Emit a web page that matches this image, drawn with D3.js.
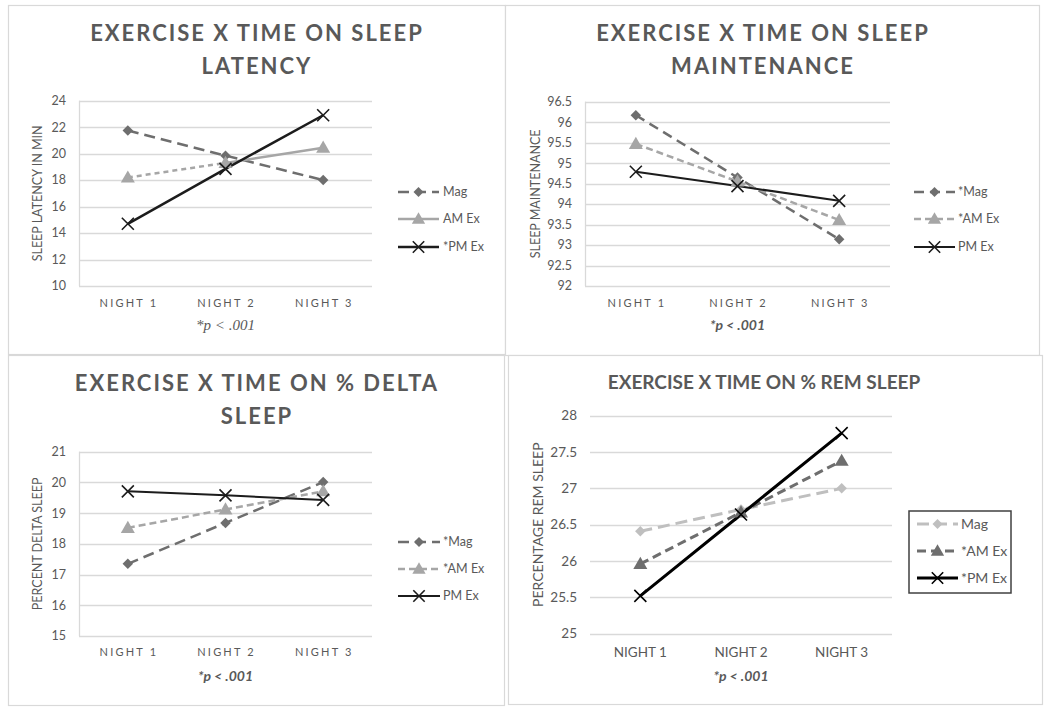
<!DOCTYPE html>
<html><head><meta charset="utf-8">
<script src="https://cdn.jsdelivr.net/npm/d3@7"></script>
<style>
body{margin:0;background:#fff;}
svg{display:block;}
text{font-family:Lato, "Open Sans", sans-serif;fill:#595959;}
</style></head>
<body>
<svg id="c" width="1050" height="712"></svg>
<script>
// ---------- DATA ----------
const nights = ["NIGHT 1", "NIGHT 2", "NIGHT 3"];
const seriesNames1 = ["Mag", "AM Ex", "*PM Ex"];
const seriesNames2 = ["*Mag", "*AM Ex", "PM Ex"];
const seriesNames3 = ["*Mag", "*AM Ex", "PM Ex"];
const seriesNames4 = ["Mag", "*AM Ex", "*PM Ex"];

const latencyMag = [21.75, 19.85, 18.0];
const latencyAM  = [18.2, 19.3, 20.45];
const latencyPM  = [14.7, 18.85, 22.9];
const latencyTicks = [10, 12, 14, 16, 18, 20, 22, 24];

const maintMag = [96.17, 94.65, 93.14];
const maintAM  = [95.47, 94.55, 93.61];
const maintPM  = [94.79, 94.44, 94.08];
const maintTicks = [92, 92.5, 93, 93.5, 94, 94.5, 95, 95.5, 96, 96.5];

const deltaMag = [17.35, 18.68, 20.01];
const deltaAM  = [18.52, 19.12, 19.71];
const deltaPM  = [19.71, 19.58, 19.43];
const deltaTicks = [15, 16, 17, 18, 19, 20, 21];

const remMag = [26.41, 26.71, 27.0];
const remAM  = [25.96, 26.67, 27.38];
const remPM  = [25.52, 26.64, 27.76];
const remTicks = [25, 25.5, 26, 26.5, 27, 27.5, 28];

const titles = [
  ["EXERCISE X TIME ON SLEEP", "LATENCY"],
  ["EXERCISE X TIME ON SLEEP", "MAINTENANCE"],
  ["EXERCISE X TIME ON % DELTA", "SLEEP"],
  ["EXERCISE X TIME ON % REM SLEEP"]
];
const yTitles = ["SLEEP LATENCY IN MIN", "SLEEP MAINTENANCE", "PERCENT DELTA SLEEP", "PERCENTAGE REM SLEEP"];
const note = "*p < .001";

// ---------- STYLES / LAYOUT ----------
const svg = d3.select("#c");

const panels = [
  { box:[8,5,505,354], x:[79,372], y:[286,100.7], titleX:256, titleY:[41,74], titleSize:22, titleLS:2,
    yTitleX:38, tickSize:12.5, tickX:66, xLabY:307, xLabSize:11, xLabLS:2.2, yTitleSize:12.5,
    noteY:330, noteStyle:"serif", axisLine:true,
    names:seriesNames1, vals:[latencyMag, latencyAM, latencyPM], ticks:latencyTicks, tickFmt:d3.format("d"),
    styles:[
      {color:"#6e6e6e", dash:"11,6", w:2.5, marker:"diamond", mcolor:"#6e6e6e"},
      {color:"#a6a6a6", dash:null, w:2.5, marker:"triangle", mcolor:"#a6a6a6", firstDash:"5,4"},
      {color:"#1c1c1c", dash:null, w:2.5, marker:"x", mcolor:"#1c1c1c"}
    ],
    legend:{x1:398, x2:439, tx:443, ys:[192,219,247], size:12.5}, title:titles[0], yTitle:yTitles[0] },
  { box:[505,5,1039,355], x:[585,890], y:[286,101.7], titleX:762, titleY:[41,74], titleSize:22, titleLS:2,
    yTitleX:536, tickSize:12.5, tickX:572, xLabY:307, xLabSize:11, xLabLS:2.2, yTitleSize:12.5,
    noteY:330, noteStyle:"sans", axisLine:true,
    names:seriesNames2, vals:[maintMag, maintAM, maintPM], ticks:maintTicks, tickFmt:d=>String(d),
    styles:[
      {color:"#6e6e6e", dash:"10,6", w:2.5, marker:"diamond", mcolor:"#6e6e6e"},
      {color:"#a6a6a6", dash:"7,4", w:2.5, marker:"triangle", mcolor:"#a6a6a6"},
      {color:"#1c1c1c", dash:null, w:2, marker:"x", mcolor:"#1c1c1c"}
    ],
    legend:{x1:914, x2:955, tx:958, ys:[192,219,247], size:12.5}, title:titles[1], yTitle:yTitles[1] },
  { box:[8,355,504,705], x:[79,372], y:[636,451.7], titleX:256, titleY:[391,424], titleSize:22, titleLS:2,
    yTitleX:38, tickSize:12.5, tickX:66, xLabY:656, xLabSize:11, xLabLS:2.2, yTitleSize:12.5,
    noteY:681, noteStyle:"sans", axisLine:true,
    names:seriesNames3, vals:[deltaMag, deltaAM, deltaPM], ticks:deltaTicks, tickFmt:d3.format("d"),
    styles:[
      {color:"#6e6e6e", dash:"11,6", w:2.5, marker:"diamond", mcolor:"#6e6e6e"},
      {color:"#a6a6a6", dash:"7,4", w:2.5, marker:"triangle", mcolor:"#a6a6a6"},
      {color:"#1c1c1c", dash:null, w:2, marker:"x", mcolor:"#1c1c1c"}
    ],
    legend:{x1:398, x2:440, tx:443, ys:[542,569,596], size:12.5}, title:titles[2], yTitle:yTitles[2] },
  { box:[508,355,1042,704], x:[590,892], y:[633.7,415.7], titleX:764, titleY:[389], titleSize:19, titleLS:0,
    yTitleX:538, tickSize:13.5, tickX:577, xLabY:657, xLabSize:13.5, xLabLS:0, yTitleSize:14,
    noteY:681, noteStyle:"sans", axisLine:false,
    names:seriesNames4, vals:[remMag, remAM, remPM], ticks:remTicks, tickFmt:d=>String(d),
    styles:[
      {color:"#bfbfbf", dash:"12,6", w:3, marker:"diamond", mcolor:"#bfbfbf"},
      {color:"#6e6e6e", dash:"9,5", w:3, marker:"triangle", mcolor:"#6e6e6e"},
      {color:"#000000", dash:null, w:3, marker:"x", mcolor:"#000000"}
    ],
    legend:{x1:917, x2:958, tx:961, ys:[524,551,578], size:14, box:[909,511,1011,593]}, title:titles[3], yTitle:yTitles[3] }
];

function drawMarker(g, type, x, y, color, scale) {
  scale = scale || 1;
  if (type === "diamond") {
    g.append("path").attr("d", d3.symbol(d3.symbolSquare, 55*scale)())
      .attr("transform", `translate(${x},${y}) rotate(45)`).attr("fill", color);
  } else if (type === "triangle") {
    g.append("path").attr("d", d3.symbol(d3.symbolTriangle, 85*scale)())
      .attr("transform", `translate(${x},${y+1})`).attr("fill", color);
  } else {
    const r = 6 * Math.sqrt(scale);
    g.append("path").attr("d", `M${x-r},${y-r}L${x+r},${y+r}M${x-r},${y+r}L${x+r},${y-r}`)
      .attr("stroke", color).attr("stroke-width", 1.6).attr("fill", "none");
  }
}

panels.forEach((p, pi) => {
  const g = svg.append("g");
  const [bx0, by0, bx1, by1] = p.box;
  g.append("rect").attr("x", bx0+0.5).attr("y", by0+0.5).attr("width", bx1-bx0).attr("height", by1-by0)
    .attr("fill", "#fff").attr("stroke", "#d9d9d9").attr("stroke-width", 1.2);

  const x = d3.scaleBand().domain(nights).range(p.x);
  const y = d3.scaleLinear().domain([p.ticks[0], p.ticks[p.ticks.length-1]]).range(p.y);
  const cx = d => x(d) + x.bandwidth()/2;

  // gridlines
  g.selectAll(".grid").data(p.ticks).enter().append("line")
    .attr("x1", p.x[0]).attr("x2", p.x[1])
    .attr("y1", d => Math.round(y(d))+0.5).attr("y2", d => Math.round(y(d))+0.5)
    .attr("stroke", "#d9d9d9").attr("stroke-width", 1.3);
  if (p.axisLine) {
    g.append("line").attr("x1", p.x[0]+0.5).attr("x2", p.x[0]+0.5).attr("y1", p.y[1]).attr("y2", p.y[0])
      .attr("stroke", "#d9d9d9").attr("stroke-width", 1.3);
  }
  // y tick labels
  g.selectAll(".yt").data(p.ticks).enter().append("text")
    .attr("x", p.tickX).attr("y", d => y(d)).attr("dy", "0.35em")
    .attr("text-anchor", "end").attr("font-size", p.tickSize).text(p.tickFmt);
  // x labels
  g.selectAll(".xt").data(nights).enter().append("text")
    .attr("x", d => cx(d) + p.xLabLS/2).attr("y", p.xLabY).attr("text-anchor", "middle")
    .attr("font-size", p.xLabSize).attr("letter-spacing", p.xLabLS).text(d => d);
  // y title
  const ym = (p.y[0] + p.y[1]) / 2;
  g.append("text").attr("transform", `translate(${p.yTitleX},${ym}) rotate(-90)`)
    .attr("text-anchor", "middle").attr("dy", "0.35em").attr("font-size", p.yTitleSize).text(p.yTitle);
  // title
  p.title.forEach((t, i) => {
    g.append("text").attr("x", p.titleX + p.titleLS/2).attr("y", p.titleY[i]).attr("text-anchor", "middle")
      .attr("font-size", p.titleSize).attr("font-weight", "bold").attr("letter-spacing", p.titleLS)
      .text(t);
  });
  // note
  const nt = g.append("text").attr("x", cx(nights[1])).attr("y", p.noteY).attr("text-anchor", "middle")
    .attr("font-style", "italic");
  if (p.noteStyle === "serif") {
    nt.style("font-family", "'Liberation Serif', 'DejaVu Serif', serif").attr("font-size", 15).text(note);
  } else {
    nt.attr("font-weight", "bold").attr("font-size", 14).text(note);
  }

  // series lines
  const line = d3.line().x((d, i) => cx(nights[i])).y(d => y(d));
  p.vals.forEach((vals, si) => {
    const st = p.styles[si];
    if (st.firstDash) {
      g.append("path").attr("d", line(vals.slice(0, 2))).attr("fill", "none")
        .attr("stroke", st.color).attr("stroke-width", st.w).attr("stroke-dasharray", st.firstDash);
      g.append("path").attr("d", d3.line().x((d, i) => cx(nights[i+1])).y(d => y(d))(vals.slice(1)))
        .attr("fill", "none").attr("stroke", st.color).attr("stroke-width", st.w);
    } else {
      g.append("path").attr("d", line(vals)).attr("fill", "none")
        .attr("stroke", st.color).attr("stroke-width", st.w)
        .attr("stroke-dasharray", st.dash);
    }
  });
  p.vals.forEach((vals, si) => {
    const st = p.styles[si];
    vals.forEach((v, i) => drawMarker(g, st.marker, cx(nights[i]), y(v), st.mcolor, 1));
  });

  // legend
  const L = p.legend;
  if (L.box) {
    g.append("rect").attr("x", L.box[0]).attr("y", L.box[1]).attr("width", L.box[2]-L.box[0])
      .attr("height", L.box[3]-L.box[1]).attr("fill", "#fff").attr("stroke", "#404040").attr("stroke-width", 1.5);
  }
  p.names.forEach((nm, si) => {
    const st = p.styles[si];
    const ly = L.ys[si];
    g.append("line").attr("x1", L.x1).attr("x2", L.x2).attr("y1", ly).attr("y2", ly)
      .attr("stroke", st.color).attr("stroke-width", st.w).attr("stroke-dasharray", st.dash);
    drawMarker(g, st.marker, (L.x1 + L.x2) / 2, ly, st.mcolor, 0.9);
    g.append("text").attr("x", L.tx).attr("y", ly).attr("dy", "0.35em").attr("font-size", L.size).text(nm);
  });
});
</script>
</body></html>
